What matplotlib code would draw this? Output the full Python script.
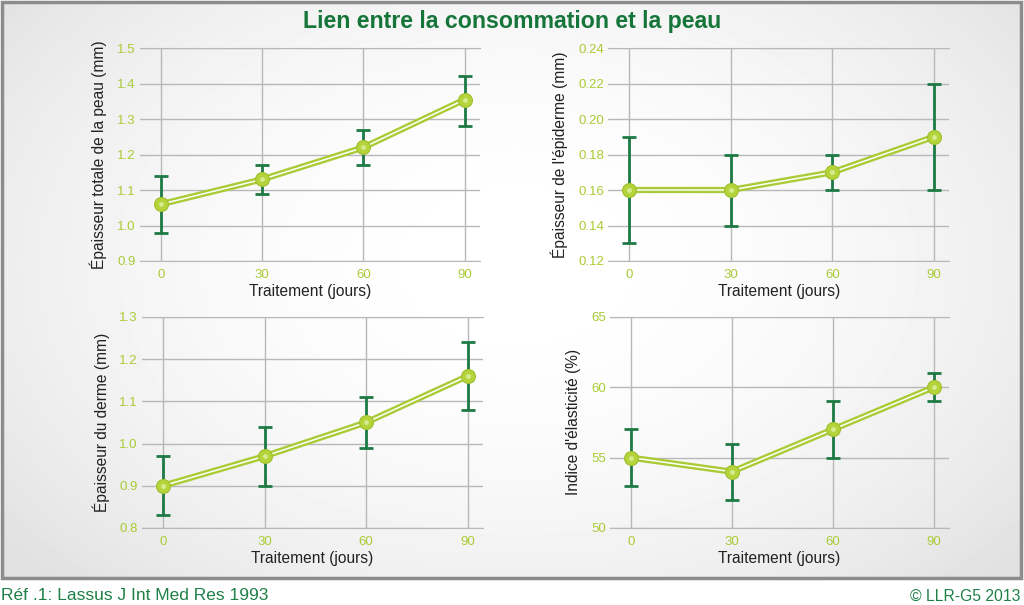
import numpy as np
import matplotlib.pyplot as plt
from matplotlib.patches import Rectangle

# data
jours = [0, 30, 60, 90]

peau_moy = [1.06, 1.13, 1.22, 1.355]
peau_bas = [0.98, 1.09, 1.17, 1.28]
peau_haut = [1.14, 1.17, 1.27, 1.42]

epid_moy = [0.16, 0.16, 0.17, 0.19]
epid_bas = [0.13, 0.14, 0.16, 0.16]
epid_haut = [0.19, 0.18, 0.18, 0.22]

derme_moy = [0.90, 0.97, 1.05, 1.16]
derme_bas = [0.83, 0.90, 0.99, 1.08]
derme_haut = [0.97, 1.04, 1.11, 1.24]

elast_moy = [55, 54, 57, 60]
elast_bas = [53, 52, 55, 59]
elast_haut = [57, 56, 59, 61]

LIGHT = "#aacb35"
DARK = "#1d7a45"
GRID = "#b8b8b8"

plt.rcParams["font.family"] = ["Liberation Sans", "DejaVu Sans"]

fig = plt.figure(figsize=(10.24, 6.05), dpi=100)
fig.patch.set_facecolor("white")

# background panel with a soft gradient
bg = fig.add_axes([0, 0, 1, 1], zorder=-10)
bg.set_xlim(0, 1024)
bg.set_ylim(605, 0)
bg.axis("off")
yy, xx = np.mgrid[0:100, 0:100]
r = np.sqrt(((xx - 50) / 50.0) ** 2 + ((yy - 45) / 60.0) ** 2)
grad = 1.0 - 0.07 * np.clip(r, 0, 1.3) ** 2
bg.imshow(grad, cmap="gray", vmin=0, vmax=1, extent=(3, 1021, 578, 3),
          aspect="auto", interpolation="bilinear")
bg.add_patch(Rectangle((2, 2), 1019, 576, fill=False, edgecolor="#8c8c8c", lw=2.5))

fig.text(0.5, 0.965, "Lien entre la consommation et la peau", ha="center", va="center",
         fontsize=16.7, fontweight="bold", color="#16763a")
fig.text(0.001, 0.015, "Réf .1: Lassus J Int Med Res 1993", ha="left", va="center",
         fontsize=12.5, color="#1f8048")
fig.text(0.997, 0.015, "© LLR-G5 2013", ha="right", va="center",
         fontsize=11.3, color="#1f8048")


def panel(rect, moy, bas, haut, ylim, yticks, fmt, ylabel):
    ax = fig.add_axes(rect)
    ax.patch.set_alpha(0)
    moy = np.array(moy)
    err = [moy - np.array(bas), np.array(haut) - moy]
    ax.errorbar(jours, moy, yerr=err, fmt="none", ecolor=DARK, elinewidth=2,
                capsize=5, capthick=2, zorder=3)
    ax.plot(jours, moy, color=LIGHT, lw=4.5, solid_capstyle="round", zorder=4)
    ax.plot(jours, moy, color="white", lw=1.1, zorder=5)
    ax.plot(jours, moy, "o", ms=10, mfc="#b5d43c", mec="#9fbf2c", mew=0.8, zorder=6)
    ax.plot(jours, moy, "o", ms=3.5, mfc="#d6eb90", mec="none", zorder=7)
    ax.set_xlim(-6.2, 94.5)
    ax.set_ylim(*ylim)
    ax.set_xticks(jours)
    ax.set_yticks(yticks)
    ax.set_yticklabels([fmt.format(v) for v in yticks])
    ax.grid(True, color=GRID, lw=1)
    ax.set_axisbelow(True)
    for s in ["left", "right"]:
        ax.spines[s].set_visible(False)
    for s in ["top", "bottom"]:
        ax.spines[s].set_color(GRID)
    ax.tick_params(length=0, labelsize=9.5, labelcolor=LIGHT)
    ax.tick_params(axis="x", pad=6)
    ax.tick_params(axis="y", pad=3)
    ax.set_xlabel("Traitement (jours)", fontsize=11.2, color="#222222", labelpad=2)
    ax.set_ylabel(ylabel, fontsize=11.2, color="#222222", labelpad=7)
    return ax


panel([0.1367, 0.5686, 0.332, 0.352], peau_moy, peau_bas, peau_haut,
      (0.9, 1.5), [0.9, 1.0, 1.1, 1.2, 1.3, 1.4, 1.5], "{:.1f}",
      "Épaisseur totale de la peau (mm)")
panel([0.594, 0.5686, 0.333, 0.352], epid_moy, epid_bas, epid_haut,
      (0.12, 0.24), [0.12, 0.14, 0.16, 0.18, 0.20, 0.22, 0.24], "{:.2f}",
      "Épaisseur de l'épiderme (mm)")
panel([0.1387, 0.1273, 0.333, 0.349], derme_moy, derme_bas, derme_haut,
      (0.8, 1.3), [0.8, 0.9, 1.0, 1.1, 1.2, 1.3], "{:.1f}",
      "Épaisseur du derme (mm)")
panel([0.5957, 0.1273, 0.331, 0.349], elast_moy, elast_bas, elast_haut,
      (50, 65), [50, 55, 60, 65], "{:.0f}",
      "Indice d'élasticité (%)")

fig.savefig("out.png", dpi=100)
